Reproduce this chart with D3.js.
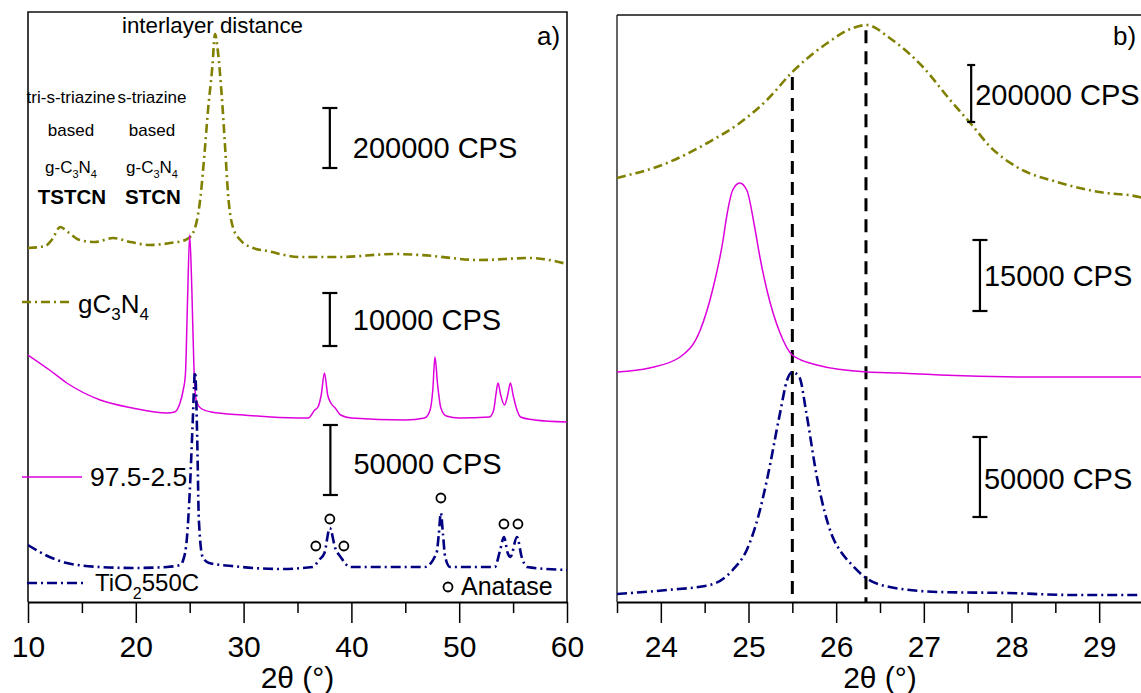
<!DOCTYPE html>
<html><head><meta charset="utf-8">
<script src="https://cdn.jsdelivr.net/npm/d3@7"></script>
<style>body{margin:0;background:#fff} svg{display:block} text{font-family:"Liberation Sans",Arial,sans-serif;fill:#000}</style>
</head><body><svg id="c" width="1141" height="693"></svg>
<script>
// ---------- DATA (2θ in degrees, stacked intensity in arbitrary units) ----------
const seriesNames = ["gC3N4", "97.5-2.5", "TiO2550C"];

// Panel a) full pattern 10–60°
const aGCN = [[10,35.4],[11.6,35.6],[12.2,36.2],[13.0,37.5],[13.7,37.0],[14.8,36.2],[16.2,36.0],[17.9,36.4],[19.5,36.0],[21.3,35.7],[23.2,35.9],[24.6,36.2],[25.3,36.9],[26.0,40.5],[26.4,45.2],[26.7,49.2],[27.1,53.5],[27.35,56.8],[27.6,55.2],[28.0,50.2],[28.3,45.2],[28.55,40.9],[29.0,37.5],[29.7,36.2],[30.9,35.4],[32.2,35.1],[35.2,34.5],[38.9,34.5],[43.9,34.8],[46.4,34.7],[51.9,34.2],[56.6,34.4],[60,33.8]];
const aMix = [[10,24.7],[12.0,23.2],[13.6,21.9],[16.7,20.2],[19.7,19.4],[22.9,18.9],[23.6,19.0],[24.1,19.9],[24.4,21.2],[24.6,22.7],[24.8,30.2],[25.0,36.7],[25.2,31.2],[25.4,23.2],[25.6,20.2],[26.0,19.4],[27.0,19.0],[30.0,18.7],[35.0,18.4],[36.0,18.4],[36.6,19.2],[36.9,19.5],[37.2,20.7],[37.5,22.9],[37.8,20.7],[38.1,19.9],[38.5,19.4],[39.0,18.7],[40,18.4],[45,18.2],[46.8,18.4],[47.3,19.2],[47.55,21.2],[47.75,24.5],[48.0,21.7],[48.3,19.4],[48.8,18.6],[50,18.4],[52.8,18.5],[53.2,19.2],[53.4,20.7],[53.6,21.9],[53.85,20.7],[54.2,19.7],[54.5,20.7],[54.75,21.9],[55.0,20.7],[55.3,19.4],[55.7,18.5],[57,18.2],[60,18.0]];
const aTiO2 = [[10,5.7],[12.0,4.5],[13.6,3.9],[16.7,3.5],[19.7,3.4],[22.9,3.5],[24.1,3.7],[24.4,4.2],[24.75,6.5],[25.0,10.9],[25.25,17.2],[25.5,23.0],[25.7,16.2],[25.85,8.2],[26.2,4.5],[26.8,3.9],[28.9,3.6],[33.4,3.3],[36.4,3.5],[37.0,4.2],[37.5,4.9],[38.0,7.4],[38.5,5.4],[39.0,4.5],[39.9,3.5],[46.8,3.5],[47.9,4.9],[48.1,6.7],[48.3,8.9],[48.5,6.7],[48.7,4.5],[49.15,3.5],[53.3,3.5],[53.8,5.2],[54.15,6.5],[54.5,4.9],[54.75,4.5],[55.36,6.5],[55.8,4.5],[56.3,3.5],[60,3.2]];
const anatasePeaks = [[36.7,5.6],[38.0,8.3],[39.3,5.6],[48.3,10.4],[54.15,7.8],[55.45,7.8]];

// Panel b) zoom 23.5–29.5°
const bGCN = [[23.5,42.4],[24.07,43.9],[24.53,45.9],[24.9,47.9],[25.21,50.2],[25.5,53.0],[25.9,55.9],[26.19,57.4],[26.35,57.7],[26.61,56.4],[26.99,53.5],[27.3,50.2],[27.53,47.9],[27.76,45.5],[28.06,43.5],[28.52,42.0],[29.0,41.0],[29.46,40.5],[29.5,40.4]];
const bMix = [[23.5,23.0],[23.87,23.4],[24.22,24.5],[24.45,27.2],[24.59,31.2],[24.71,36.2],[24.75,38.5],[24.82,41.2],[24.9,41.9],[24.98,41.2],[25.07,37.5],[25.13,34.5],[25.21,31.2],[25.36,26.9],[25.5,24.7],[25.78,23.7],[26.35,23.0],[26.73,22.9],[27.18,22.7],[28.32,22.5],[29.5,22.5]];
const bTiO2 = [[23.5,0.8],[24.07,1.2],[24.56,1.7],[24.82,3.2],[24.98,5.2],[25.11,8.5],[25.21,12.2],[25.36,18.9],[25.44,22.2],[25.5,23.0],[25.58,22.5],[25.66,18.9],[25.78,12.5],[25.96,6.5],[26.04,5.2],[26.16,3.9],[26.34,2.4],[26.61,1.5],[27.18,1.0],[27.95,0.9],[28.7,0.7],[29.5,0.7]];
const bMarkers = [25.5, 26.34];

// Scale bars: [label, 2θ, value bottom, value top]
const aScaleBars = [["200000 CPS",38.0,43.4,49.4],["10000 CPS",38.0,25.6,30.9],["50000 CPS",38.05,10.7,17.7]];
const bScaleBars = [["200000 CPS",27.54,48.0,53.7],["15000 CPS",27.64,29.1,36.2],["50000 CPS",27.64,8.5,16.5]];

// Tick labels
const aTicks = [10,20,30,40,50,60];
const aMinor = [15,25,35,45,55];
const bTicks = [24,25,26,27,28,29];
const bMinor = [23.5,24.5,25.5,26.5,27.5,28.5,29.5];

// ---------- DRAW ----------
const svg = d3.select("#c");
const FONT = '"Liberation Sans",Arial,sans-serif';
const colors = {gcn:"#808000", mix:"#dd00dd", tio:"#000080"};

const xa = d3.scaleLinear().domain([10,60]).range([28,567]);
const ya = d3.scaleLinear().domain([0,59]).range([602,12]);
const xb = d3.scaleLinear().domain([23.5,29.5]).range([617,1143]);
const yb = d3.scaleLinear().domain([0,58.7]).range([602,15]);

function lineGen(x,y){ return d3.line().x(d=>x(d[0])).y(d=>y(d[1])).curve(d3.curveMonotoneX); }

function drawAxis(x, major, minor, titleX){
  const gMinor = svg.append("g").attr("transform","translate(0,602)")
    .call(d3.axisBottom(x).tickValues(minor).tickSize(11).tickSizeOuter(0).tickFormat(""));
  gMinor.select(".domain").remove();
  gMinor.selectAll("line").attr("stroke","#000").attr("stroke-width",1.5);
  const g = svg.append("g").attr("transform","translate(0,602)")
    .call(d3.axisBottom(x).tickValues(major).tickSize(21).tickSizeOuter(0).tickFormat(d3.format("d")));
  g.select(".domain").attr("stroke","#000").attr("stroke-width",1.8);
  g.selectAll("line").attr("stroke","#000").attr("stroke-width",1.5);
  g.selectAll("text").attr("y",55).attr("dy",null).attr("font-size",30).attr("font-family",FONT).attr("fill","#000");
  svg.append("text").attr("x",titleX).attr("y",688).attr("text-anchor","middle").attr("font-size",30).text("2θ (°)");
}

// Panel a frame
svg.append("path").attr("d",`M${xa(10)},${ya(0)}V${ya(59)}H${xa(60)}V${ya(0)}`).attr("fill","none").attr("stroke","#111").attr("stroke-width",1.6);
// Panel b frame
svg.append("line").attr("x1",xb(23.5)).attr("x2",xb(23.5)).attr("y1",yb(0)).attr("y2",yb(58.7)).attr("stroke","#555").attr("stroke-width",1.8);
svg.append("line").attr("x1",xb(23.5)).attr("x2",xb(29.5)).attr("y1",yb(58.7)).attr("y2",yb(58.7)).attr("stroke","#111").attr("stroke-width",1.6);

drawAxis(xa, aTicks, aMinor, (xa(10)+xa(60))/2);
drawAxis(xb, bTicks, bMinor, (xb(23.5)+xb(29.5))/2);

// clip for b
svg.append("clipPath").attr("id","clipb").append("rect").attr("x",617).attr("y",15).attr("width",526).attr("height",587);
svg.append("clipPath").attr("id","clipa").append("rect").attr("x",28).attr("y",12).attr("width",539).attr("height",590);

const styles = {
  gcn:{c:colors.gcn,w:2.6,d:"9,4,2,4"},
  mix:{c:colors.mix,w:1.5,d:null},
  tio:{c:colors.tio,w:2.6,d:"10,4,2,4"}
};
function drawSeries(data, st, x, y, clip){
  svg.append("path").datum(data).attr("d",lineGen(x,y)).attr("fill","none")
    .attr("stroke",st.c).attr("stroke-width",st.w).attr("stroke-dasharray",st.d)
    .attr("stroke-linejoin","round").attr("clip-path",`url(#${clip})`);
}
drawSeries(aGCN, styles.gcn, xa, ya, "clipa");
drawSeries(aMix, styles.mix, xa, ya, "clipa");
drawSeries(aTiO2, styles.tio, xa, ya, "clipa");

// dashed markers in b (from gC3N4 curve down to axis)
function interp(data, xv){
  const i = d3.bisector(d=>d[0]).left(data, xv);
  if(i<=0) return data[0][1];
  const a=data[i-1], b=data[i]; const t=(xv-a[0])/(b[0]-a[0]);
  return a[1]+t*(b[1]-a[1]);
}
svg.selectAll(".vmark").data(bMarkers).enter().append("line")
  .attr("x1",d=>xb(d)).attr("x2",d=>xb(d))
  .attr("y1",d=>yb(interp(bGCN,d))+5).attr("y2",yb(0))
  .attr("stroke","#000").attr("stroke-width",3).attr("stroke-dasharray","13,8");

drawSeries(bGCN, styles.gcn, xb, yb, "clipb");
drawSeries(bMix, styles.mix, xb, yb, "clipb");
drawSeries(bTiO2, styles.tio, xb, yb, "clipb");

// Anatase markers
svg.selectAll(".ana").data(anatasePeaks).enter().append("circle")
  .attr("cx",d=>xa(d[0])).attr("cy",d=>ya(d[1])).attr("r",4.5)
  .attr("fill","none").attr("stroke","#000").attr("stroke-width",1.8);

// Scale bars
function drawBars(bars, x, y, cap, textDx, fs, textDy){
  bars.forEach((b,i)=>{
    const px=x(b[1]), y0=y(b[2]), y1=y(b[3]);
    const g=svg.append("g");
    g.append("line").attr("x1",px).attr("x2",px).attr("y1",y0).attr("y2",y1).attr("stroke","#000").attr("stroke-width",2.2);
    const c = Array.isArray(cap)?cap[i]:cap;
    [y0,y1].forEach(yy=>g.append("line").attr("x1",px-c/2).attr("x2",px+c/2).attr("y1",yy).attr("y2",yy).attr("stroke","#000").attr("stroke-width",2.2));
    g.append("text").attr("x",px+textDx).attr("y",(y0+y1)/2+textDy[i]).attr("font-size",fs).text(b[0]);
  });
}
drawBars(aScaleBars, xa, ya, 15, 23, 29, [20,10,14]);
drawBars(bScaleBars, xb, yb, [8,15,15], 4, 29, [11,10,12]);

// Panel labels
svg.append("text").attr("x",537).attr("y",45).attr("font-size",26).text("a)");
svg.append("text").attr("x",1113).attr("y",45).attr("font-size",26).text("b)");

// Annotations in panel a
svg.append("text").attr("x",122).attr("y",33).attr("font-size",22.3).text("interlayer distance");
const colX=[71,152];
[["tri-s-triazine","s-triazine"],["based","based"]].forEach((row,ri)=>{
  row.forEach((t,ci)=>svg.append("text").attr("x",colX[ci]).attr("y",[103,136][ri]).attr("text-anchor","middle").attr("font-size",17).text(t));
});
colX.forEach(cx=>{
  const t=svg.append("text").attr("x",cx).attr("y",173).attr("text-anchor","middle").attr("font-size",17);
  t.append("tspan").text("g-C");
  t.append("tspan").attr("font-size",11).attr("dy",5).text("3");
  t.append("tspan").attr("dy",-5).text("N");
  t.append("tspan").attr("font-size",11).attr("dy",5).text("4");
});
["TSTCN","STCN"].forEach((t,ci)=>svg.append("text").attr("x",colX[ci]+1).attr("y",204).attr("text-anchor","middle").attr("font-size",20.5).attr("font-weight","bold").text(t));

// Legend
const legend = [
  {key:"gcn", x1:22, x2:70, y:302, tx:78, ty:313},
  {key:"mix", x1:22, x2:82, y:477, tx:90, ty:486},
  {key:"tio", x1:27, x2:85, y:583, tx:95, ty:591}
];
legend.forEach(l=>{
  const st=styles[l.key];
  svg.append("line").attr("x1",l.x1).attr("x2",l.x2).attr("y1",l.y).attr("y2",l.y)
    .attr("stroke",st.c).attr("stroke-width",st.w).attr("stroke-dasharray",st.d);
});
{
  const t=svg.append("text").attr("x",legend[0].tx).attr("y",legend[0].ty).attr("font-size",26);
  t.append("tspan").text("gC"); t.append("tspan").attr("font-size",17).attr("dy",7).text("3");
  t.append("tspan").attr("dy",-7).text("N"); t.append("tspan").attr("font-size",17).attr("dy",7).text("4");
  svg.append("text").attr("x",legend[1].tx).attr("y",legend[1].ty).attr("font-size",26.5).text(seriesNames[1]);
  const u=svg.append("text").attr("x",legend[2].tx).attr("y",legend[2].ty).attr("font-size",24);
  u.append("tspan").text("TiO"); u.append("tspan").attr("font-size",16).attr("dy",8).text("2");
  u.append("tspan").attr("dy",-8).text("550C");
}
// Anatase legend
svg.append("circle").attr("cx",448).attr("cy",587).attr("r",4.5).attr("fill","none").attr("stroke","#000").attr("stroke-width",1.8);
svg.append("text").attr("x",461).attr("y",595).attr("font-size",25).text("Anatase");
</script></body></html>
